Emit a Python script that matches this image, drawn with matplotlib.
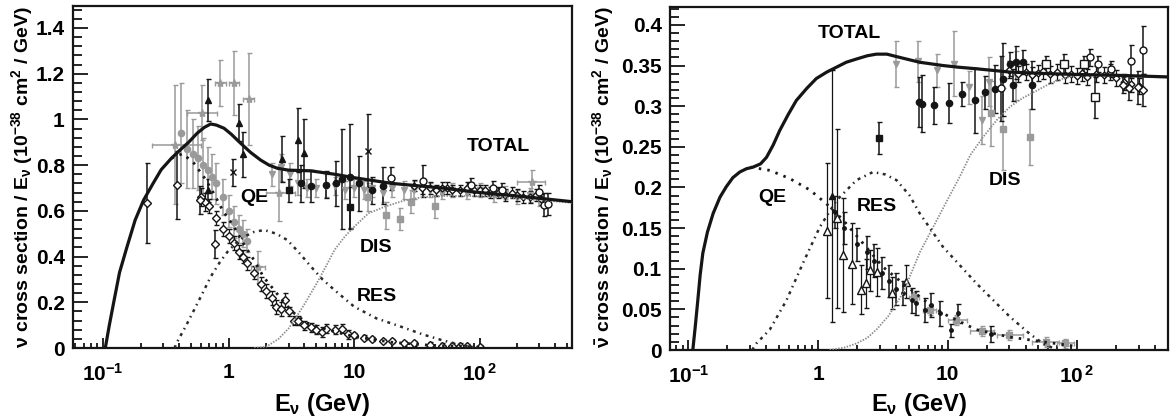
import numpy as np
import matplotlib.pyplot as plt
from matplotlib.ticker import MultipleLocator, LogLocator, NullFormatter, FuncFormatter

plt.rcParams['font.family'] = ['Liberation Sans', 'DejaVu Sans']
plt.rcParams['font.weight'] = 'bold'
plt.rcParams['mathtext.fontset'] = 'custom'
plt.rcParams['mathtext.rm'] = 'Liberation Sans:bold'
plt.rcParams['mathtext.bf'] = 'Liberation Sans:bold'
plt.rcParams['mathtext.default'] = 'regular'

BLACK = '#151515'
GRAY = '#9a9a9a'

# ---------------- model curves: neutrino ----------------
nu_total_e = [0.104, 0.112, 0.121, 0.135, 0.155, 0.18, 0.21, 0.25, 0.29, 0.35, 0.41, 0.48, 0.56, 0.64,
              0.72, 0.80, 0.92, 1.05, 1.25, 1.5, 1.8, 2.1, 2.45, 3.0, 4.5, 7, 10, 20, 50, 100, 200, 545]
nu_total_v = [0.0, 0.10, 0.196, 0.33, 0.443, 0.56, 0.647, 0.72, 0.78, 0.83, 0.866, 0.90, 0.939, 0.965,
              0.980, 0.975, 0.961, 0.935, 0.895, 0.855, 0.822, 0.80, 0.786, 0.778, 0.775, 0.76, 0.745,
              0.72, 0.70, 0.68, 0.665, 0.64]
nu_qe_e = [0.35, 0.43, 0.53, 0.65, 0.76, 0.9, 1.1, 1.3, 1.59, 1.9, 2.3, 2.8, 3.33, 4.2, 6.2, 10, 20, 40, 100]
nu_qe_v = [0.83, 0.85, 0.808, 0.74, 0.677, 0.60, 0.531, 0.46, 0.385, 0.31, 0.254, 0.195, 0.152, 0.11,
           0.079, 0.05, 0.025, 0.012, 0.004]
nu_res_e = [0.37, 0.39, 0.45, 0.53, 0.62, 0.72, 0.85, 0.98, 1.15, 1.33, 1.6, 1.92, 2.4, 2.94, 3.6, 4.53,
            5.6, 6.96, 10, 15, 23.7, 35, 49.6, 71, 100]
nu_res_v = [0.0, 0.028, 0.09, 0.166, 0.24, 0.312, 0.375, 0.421, 0.46, 0.487, 0.508, 0.516, 0.50, 0.472,
            0.42, 0.356, 0.30, 0.254, 0.181, 0.13, 0.093, 0.06, 0.035, 0.013, 0.0]
nu_dis_e = [1.6, 2.0, 2.5, 3.0, 3.5, 4.0, 5.0, 6.0, 7.0, 8.5, 10, 13, 17.5, 25, 35, 50, 100, 200, 545]
nu_dis_v = [0.0, 0.006, 0.04, 0.085, 0.14, 0.19, 0.28, 0.36, 0.43, 0.49, 0.53, 0.589, 0.618, 0.645,
            0.66, 0.665, 0.665, 0.655, 0.635]

# ---------------- model curves: antineutrino ----------------
anu_total_e = [0.108, 0.113, 0.118, 0.123, 0.129, 0.14, 0.155, 0.175, 0.196, 0.22, 0.249, 0.28, 0.315,
               0.36, 0.40, 0.45, 0.506, 0.59, 0.68, 0.82, 0.97, 1.17, 1.39, 1.65, 1.98, 2.4, 2.82, 3.4,
               4.03, 5.1, 6.1, 7.5, 9.2, 12, 16.7, 30, 60, 99, 200, 503]
anu_total_v = [0.0, 0.03, 0.061, 0.092, 0.119, 0.145, 0.168, 0.188, 0.201, 0.212, 0.219, 0.223, 0.225,
               0.229, 0.237, 0.252, 0.270, 0.29, 0.307, 0.322, 0.334, 0.342, 0.348, 0.354, 0.358, 0.362,
               0.364, 0.364, 0.361, 0.357, 0.354, 0.352, 0.350, 0.348, 0.346, 0.342, 0.340, 0.339,
               0.338, 0.336]
anu_qe_e = [0.30, 0.33, 0.424, 0.604, 0.863, 1.16, 1.56, 2.23, 3.18, 4.53, 6.5, 9.2, 16.7, 30, 55, 93]
anu_qe_v = [0.225, 0.224, 0.221, 0.211, 0.197, 0.180, 0.160, 0.131, 0.102, 0.082, 0.062, 0.045, 0.025,
            0.016, 0.010, 0.005]
anu_res_e = [0.31, 0.334, 0.424, 0.57, 0.766, 1.03, 1.39, 1.98, 2.66, 3.3, 4.03, 5.1, 6.1, 9.2, 16.7,
             30.2, 43, 54.6, 70]
anu_res_v = [0.0, 0.008, 0.025, 0.061, 0.107, 0.151, 0.184, 0.209, 0.219, 0.216, 0.209, 0.19, 0.168,
             0.127, 0.082, 0.041, 0.020, 0.008, 0.0]
anu_dis_e = [1.23, 1.6, 1.98, 2.4, 2.82, 3.5, 4.53, 5.1, 6.1, 7.73, 10, 12.4, 15, 18.8, 24, 30.2, 38,
             48.6, 62, 78, 100, 200, 503]
anu_dis_v = [0.0, 0.003, 0.008, 0.015, 0.025, 0.042, 0.07, 0.09, 0.12, 0.151, 0.185, 0.213, 0.24, 0.262,
             0.283, 0.299, 0.31, 0.319, 0.328, 0.334, 0.338, 0.337, 0.335]

# ---------------- neutrino data ----------------
nu_cross_e = [0.377, 0.616, 0.86, 1.10, 1.45, 2.53, 1.70]
nu_cross_v = [0.89, 1.03, 1.16, 1.16, 1.09, 0.677, 0.356]
nu_cross_xlo = [0.245, 0.47, 0.78, 1.0, 1.3, 2.0, 1.5]
nu_cross_xhi = [0.598, 0.81, 0.95, 1.2, 1.6, 3.4, 1.95]
nu_cross_err = [0.26, 0.12, 0.10, 0.14, 0.20, 0.12, 0.07]

nu_gcirc_e = [0.42, 0.47, 0.52, 0.57, 0.63, 0.68, 0.74, 0.80, 0.90, 1.0, 1.1, 1.2, 1.3, 1.4]
nu_gcirc_v = [0.94, 0.87, 0.85, 0.83, 0.80, 0.78, 0.75, 0.72, 0.66, 0.60, 0.55, 0.52, 0.50, 0.47]
nu_gcirc_err = [0.22, 0.17, 0.15, 0.14, 0.12, 0.10, 0.10, 0.09, 0.08, 0.07, 0.07, 0.06, 0.06, 0.05]

nu_odiam_e = [0.224, 0.389, 0.59, 0.777]
nu_odiam_v = [0.634, 0.713, 0.647, 0.454]
nu_odiam_err = [0.175, 0.15, 0.06, 0.06]

nu_tri_e = [0.688, 0.69, 1.21, 1.30, 2.65, 3.54, 4.0]
nu_tri_v = [1.085, 0.69, 0.986, 0.847, 0.827, 0.91, 0.852]
nu_tri_err = [0.09, 0.05, 0.08, 0.10, 0.10, 0.14, 0.15]

nu_xmark_e = [1.08, 12.9]
nu_xmark_v = [0.768, 0.863]
nu_xmark_err = [0.06, 0.16]

nu_bsq_e = [3.0, 9.35]
nu_bsq_v = [0.69, 0.615]
nu_bsq_err = [0.05, 0.09]

nu_bcirc_e = [3.8, 4.5, 6.0, 7.2, 8.0, 9.2, 11, 14, 17]
nu_bcirc_v = [0.72, 0.71, 0.715, 0.72, 0.74, 0.75, 0.72, 0.69, 0.71]
nu_bcirc_err = [0.08, 0.07, 0.06, 0.10, 0.22, 0.23, 0.12, 0.06, 0.08]

nu_gtot_e = [2.2, 2.6, 3.1, 3.6, 4.2, 5, 6, 7, 8.5, 10, 12, 14, 17, 20, 25, 30, 40, 50, 60, 80, 100,
             130, 160, 200, 250, 300]
nu_gtot_v = [0.76, 0.79, 0.76, 0.72, 0.70, 0.70, 0.71, 0.71, 0.69, 0.70, 0.69, 0.70, 0.68, 0.70, 0.69,
             0.69, 0.69, 0.68, 0.69, 0.68, 0.69, 0.67, 0.68, 0.66, 0.67, 0.65]
nu_gtot_err = [0.05, 0.06, 0.05, 0.05, 0.04, 0.04, 0.05, 0.04, 0.04, 0.04, 0.04, 0.04, 0.04, 0.04,
               0.04, 0.04, 0.03, 0.03, 0.03, 0.03, 0.03, 0.03, 0.03, 0.03, 0.03, 0.03]

nu_gsq_e = [13, 18.1, 23.3, 28.5, 44]
nu_gsq_v = [0.66, 0.58, 0.564, 0.64, 0.62]
nu_gsq_err = [0.06, 0.06, 0.05, 0.05, 0.05]

nu_gstar_e = [260]
nu_gstar_v = [0.727]
nu_gstar_xlo = [200]
nu_gstar_xhi = [330]

nu_ocirc_e = [19.7, 35.4, 86, 128, 150, 295, 324, 350]
nu_ocirc_v = [0.742, 0.73, 0.713, 0.699, 0.691, 0.684, 0.626, 0.63]
nu_ocirc_err = [0.05, 0.07, 0.03, 0.03, 0.03, 0.03, 0.05, 0.05]

nu_bdense_e = [30, 35, 40, 45, 50, 55, 60, 70, 80, 90, 100, 110, 120, 140, 160, 180, 200, 220, 250,
               280, 310]
nu_bdense_v = [0.71, 0.70, 0.70, 0.69, 0.70, 0.70, 0.69, 0.69, 0.70, 0.69, 0.69, 0.69, 0.68, 0.68,
               0.67, 0.68, 0.67, 0.66, 0.66, 0.67, 0.65]

nu_qedat_e = [0.6, 0.65, 0.7, 0.8, 0.9, 1.0, 1.1, 1.2, 1.3, 1.4, 1.6, 1.8, 2.0, 2.2, 2.4, 2.6, 2.8,
              3.0, 3.3, 3.6, 4.0, 4.5, 5.0, 5.5, 6.0, 7.0, 8.0, 9.0, 10, 12, 14, 17, 20, 25, 30, 40,
              50, 60, 70, 80, 100]
nu_qedat_v = [0.66, 0.64, 0.62, 0.57, 0.52, 0.49, 0.46, 0.42, 0.40, 0.37, 0.33, 0.28, 0.25, 0.22,
              0.18, 0.17, 0.21, 0.16, 0.12, 0.12, 0.10, 0.09, 0.08, 0.07, 0.085, 0.08, 0.085, 0.06,
              0.055, 0.045, 0.04, 0.03, 0.03, 0.02, 0.02, 0.015, 0.01, 0.01, 0.01, 0.008, 0.005]
nu_qedat_err = [0.04, 0.04, 0.03, 0.03, 0.03, 0.03, 0.03, 0.03, 0.03, 0.03, 0.03, 0.03, 0.03, 0.03,
                0.03, 0.03, 0.03, 0.02, 0.02, 0.02, 0.02, 0.02, 0.02, 0.02, 0.02, 0.02, 0.02, 0.02,
                0.01, 0.01, 0.01, 0.01, 0.01, 0.01, 0.01, 0.01, 0.01, 0.01, 0.01, 0.01, 0.01]

# ---------------- antineutrino data ----------------
anu_gtri_e = [3.97, 5.9, 8.3, 11.2, 14.6, 18.6, 21, 34]
anu_gtri_v = [0.352, 0.355, 0.344, 0.352, 0.323, 0.283, 0.33, 0.338]
anu_gtri_err = [0.028, 0.025, 0.02, 0.04, 0.02, 0.03, 0.03, 0.03]

anu_bcirc_e = [6.0, 6.3, 7.8, 10.2, 12.9, 16.2, 19.4, 23.1, 26.8, 30.2, 32, 34, 38, 44.8]
anu_bcirc_v = [0.305, 0.303, 0.301, 0.304, 0.315, 0.307, 0.317, 0.321, 0.333, 0.352, 0.326, 0.354,
               0.354, 0.326]
anu_bcirc_err = [0.031, 0.035, 0.023, 0.025, 0.015, 0.04, 0.02, 0.03, 0.045, 0.015, 0.02, 0.02,
                 0.015, 0.03]

anu_bsq_e = [2.94]
anu_bsq_v = [0.261]
anu_bsq_err = [0.02]

anu_gsq_e = [21.8, 26.8, 43.6]
anu_gsq_v = [0.291, 0.272, 0.262]
anu_gsq_err = [0.04, 0.05, 0.035]

anu_otri_e = [1.18, 1.39, 1.56, 1.84, 2.16, 2.36, 2.5, 2.85, 3.7, 4.8]
anu_otri_v = [0.147, 0.162, 0.117, 0.106, 0.074, 0.082, 0.098, 0.096, 0.070, 0.084]
anu_otri_err = [0.083, 0.11, 0.07, 0.05, 0.03, 0.03, 0.025, 0.03, 0.02, 0.02]

anu_btri_e = [1.28]
anu_btri_v = [0.19]
anu_btri_err = [0.155]

anu_bsmall_e = [1.35, 1.6, 2.0, 2.4, 2.7, 3.1, 3.5, 4.0, 4.5, 5.3, 5.7, 6.7, 7.5, 8.7, 10.6, 12.1, 21.8]
anu_bsmall_v = [0.17, 0.15, 0.13, 0.12, 0.11, 0.095, 0.085, 0.075, 0.07, 0.061, 0.058, 0.049, 0.055,
                0.045, 0.024, 0.045, 0.020]
anu_bsmall_err = [0.02, 0.02, 0.02, 0.02, 0.02, 0.02, 0.02, 0.02, 0.015, 0.015, 0.015, 0.015, 0.015,
                  0.015, 0.008, 0.012, 0.01]

anu_glow_e = [5.5, 7.3, 11.6, 18.6, 30, 58, 80]
anu_glow_v = [0.065, 0.049, 0.037, 0.023, 0.018, 0.010, 0.008]
anu_glow_xlo = [5.0, 6.5, 10, 15, 24, 45, 70]
anu_glow_xhi = [6.0, 8.2, 14, 23, 38, 72, 95]

anu_bdense_e = [30, 35, 40, 45, 50, 55, 62, 70, 80, 90, 100, 110, 120, 140, 160, 180, 200, 230, 260, 300]
anu_bdense_v = [0.345, 0.34, 0.342, 0.338, 0.341, 0.343, 0.339, 0.342, 0.338, 0.34, 0.337, 0.341,
                0.336, 0.34, 0.338, 0.342, 0.335, 0.33, 0.327, 0.325]
anu_bdense_err = [0.01] * 20

anu_osq_e = [58, 79, 114, 137]
anu_osq_v = [0.352, 0.352, 0.352, 0.311]
anu_osq_err = [0.01, 0.012, 0.01, 0.025]

anu_ocirc_e = [26, 125, 145, 184, 262, 323]
anu_ocirc_v = [0.322, 0.36, 0.352, 0.346, 0.355, 0.369]
anu_ocirc_err = [0.04, 0.01, 0.01, 0.01, 0.02, 0.03]

anu_odiam_e = [226, 250, 293, 323]
anu_odiam_v = [0.326, 0.322, 0.323, 0.320]
anu_odiam_err = [0.01, 0.015, 0.02, 0.02]


def pts(ax, e, v, err=None, marker='o', color=BLACK, ms=4.5, hollow=False, xlo=None, xhi=None, lw=1.1):
    xerr = None
    if xlo is not None:
        xerr = [np.array(e) - np.array(xlo), np.array(xhi) - np.array(e)]
    ax.errorbar(e, v, yerr=err, xerr=xerr, fmt=marker, color=color, ms=ms,
                mfc='white' if hollow else color, mec=color, mew=1.0,
                elinewidth=lw, capsize=1.8, capthick=lw, zorder=2)


def style(ax, xlim, ylim, ymaj, ymin):
    ax.set_xscale('log')
    ax.set_xlim(*xlim)
    ax.set_ylim(*ylim)
    ax.set_xticks([0.1, 1, 10, 100])
    ax.set_xticklabels([r'$10^{-1}$', '1', '10', r'$10^{\,2}$'])
    ax.xaxis.set_minor_locator(LogLocator(base=10, subs=np.arange(2, 10)))
    ax.xaxis.set_minor_formatter(NullFormatter())
    ax.yaxis.set_major_locator(MultipleLocator(ymaj))
    ax.yaxis.set_minor_locator(MultipleLocator(ymin))
    ax.yaxis.set_major_formatter(FuncFormatter(lambda y, p: '%g' % round(y, 3)))
    ax.tick_params(which='both', direction='in', top=False, right=False, width=1.2, labelsize=15)
    ax.tick_params(axis='x', which='major', length=7, pad=11)
    ax.tick_params(axis='x', which='minor', length=3.5)
    ax.tick_params(axis='y', which='major', length=11, pad=6)
    ax.tick_params(axis='y', which='minor', length=6.5)
    for s in ax.spines.values():
        s.set_linewidth(1.6)
        s.set_color(BLACK)


def curves(ax, te, tv, qe, qv, re, rv, de, dv):
    ax.plot(de, dv, color='#8a8a8a', lw=1.3, ls=(0, (0.8, 0.8)), zorder=3)
    ax.plot(re, rv, color='#2a2a2a', lw=1.8, ls=(0, (1.2, 1.8, 0.6, 1.8)), zorder=3)
    ax.plot(qe, qv, color='#1a1a1a', lw=2.0, ls=(0, (0.9, 2.2)), zorder=3)
    ax.plot(te, tv, color=BLACK, lw=2.3, zorder=4, solid_capstyle='butt')


fig = plt.figure(figsize=(11.76, 4.18), dpi=100)
ax1 = fig.add_axes([73 / 1176, 70 / 418, 499 / 1176, 342 / 418])
ax2 = fig.add_axes([670 / 1176, 68 / 418, 498 / 1176, 343 / 418])

# ---- left: neutrino ----
pts(ax1, nu_gcirc_e, nu_gcirc_v, nu_gcirc_err, 'o', GRAY)
pts(ax1, nu_gtot_e, nu_gtot_v, nu_gtot_err, 'v', GRAY, ms=4)
pts(ax1, nu_gsq_e, nu_gsq_v, nu_gsq_err, 's', GRAY)
pts(ax1, nu_cross_e, nu_cross_v, nu_cross_err, '*', GRAY, ms=6, xlo=nu_cross_xlo, xhi=nu_cross_xhi)
pts(ax1, nu_gstar_e, nu_gstar_v, [0.05], '*', GRAY, ms=6, xlo=nu_gstar_xlo, xhi=nu_gstar_xhi)
pts(ax1, nu_qedat_e, nu_qedat_v, nu_qedat_err, 'D', BLACK, ms=4, hollow=True, lw=0.9)
pts(ax1, nu_odiam_e, nu_odiam_v, nu_odiam_err, 'D', BLACK, ms=4.5, hollow=True)
pts(ax1, nu_tri_e, nu_tri_v, nu_tri_err, '^', BLACK, ms=4.5)
pts(ax1, nu_xmark_e, nu_xmark_v, nu_xmark_err, 'x', BLACK, ms=5)
pts(ax1, nu_bsq_e, nu_bsq_v, nu_bsq_err, 's', BLACK, ms=4.5)
pts(ax1, nu_bcirc_e, nu_bcirc_v, nu_bcirc_err, 'o', BLACK, ms=4.5)
pts(ax1, nu_bdense_e, nu_bdense_v, [0.025] * len(nu_bdense_e), 'D', BLACK, ms=3.5, hollow=True, lw=0.9)
pts(ax1, nu_ocirc_e, nu_ocirc_v, nu_ocirc_err, 'o', BLACK, ms=5, hollow=True)
curves(ax1, nu_total_e, nu_total_v, nu_qe_e, nu_qe_v, nu_res_e, nu_res_v, nu_dis_e, nu_dis_v)
style(ax1, (0.0575, 545), (0, 1.496), 0.2, 0.04)

ax1.text(142, 0.88, 'TOTAL', fontsize=14, ha='center', va='center')
ax1.text(1.61, 0.66, 'QE', fontsize=14, ha='center', va='center')
ax1.text(15, 0.44, 'DIS', fontsize=14, ha='center', va='center')
ax1.text(15.3, 0.227, 'RES', fontsize=14, ha='center', va='center')

# ---- right: antineutrino ----
pts(ax2, anu_gtri_e, anu_gtri_v, anu_gtri_err, 'v', GRAY)
pts(ax2, anu_gsq_e, anu_gsq_v, anu_gsq_err, 's', GRAY)
pts(ax2, anu_glow_e, anu_glow_v, [0.006] * len(anu_glow_e), 's', GRAY, xlo=anu_glow_xlo, xhi=anu_glow_xhi)
pts(ax2, anu_otri_e, anu_otri_v, anu_otri_err, '^', BLACK, ms=5.5, hollow=True, lw=0.9)
pts(ax2, anu_btri_e, anu_btri_v, anu_btri_err, '^', BLACK, ms=4, lw=0.9)
pts(ax2, anu_bsmall_e, anu_bsmall_v, anu_bsmall_err, 'o', BLACK, ms=2.5)
pts(ax2, anu_bsq_e, anu_bsq_v, anu_bsq_err, 's', BLACK, ms=4.5)
pts(ax2, anu_bcirc_e, anu_bcirc_v, anu_bcirc_err, 'o', BLACK, ms=4.5)
pts(ax2, anu_bdense_e, anu_bdense_v, anu_bdense_err, 'D', BLACK, ms=3.5, hollow=True, lw=0.9)
pts(ax2, anu_osq_e, anu_osq_v, anu_osq_err, 's', BLACK, ms=5.5, hollow=True)
pts(ax2, anu_ocirc_e, anu_ocirc_v, anu_ocirc_err, 'o', BLACK, ms=5, hollow=True)
pts(ax2, anu_odiam_e, anu_odiam_v, anu_odiam_err, 'D', BLACK, ms=4, hollow=True)
curves(ax2, anu_total_e, anu_total_v, anu_qe_e, anu_qe_v, anu_res_e, anu_res_v, anu_dis_e, anu_dis_v)
style(ax2, (0.072, 503), (0, 0.422), 0.05, 0.01)

ax2.text(1.76, 0.389, 'TOTAL', fontsize=14, ha='center', va='center')
ax2.text(0.44, 0.188, 'QE', fontsize=14, ha='center', va='center')
ax2.text(2.83, 0.177, 'RES', fontsize=14, ha='center', va='center')
ax2.text(27.7, 0.209, 'DIS', fontsize=14, ha='center', va='center')

# axis titles
fig.text(22 / 1176, (418 - 177) / 418,
         r'$\nu$ cross section / E$_{\nu}$ (10$^{-38}$ cm$^{2}$ / GeV)',
         rotation=90, ha='center', va='center', fontsize=14)
fig.text(603 / 1176, (418 - 177) / 418,
         r'$\bar{\nu}$ cross section / E$_{\nu}$ (10$^{-38}$ cm$^{2}$ / GeV)',
         rotation=90, ha='center', va='center', fontsize=14)
fig.text(322 / 1176, (418 - 404) / 418, r'E$_{\nu}$ (GeV)', ha='center', va='center', fontsize=17)
fig.text(919 / 1176, (418 - 404) / 418, r'E$_{\nu}$ (GeV)', ha='center', va='center', fontsize=17)

fig.savefig('out.png', dpi=100)
